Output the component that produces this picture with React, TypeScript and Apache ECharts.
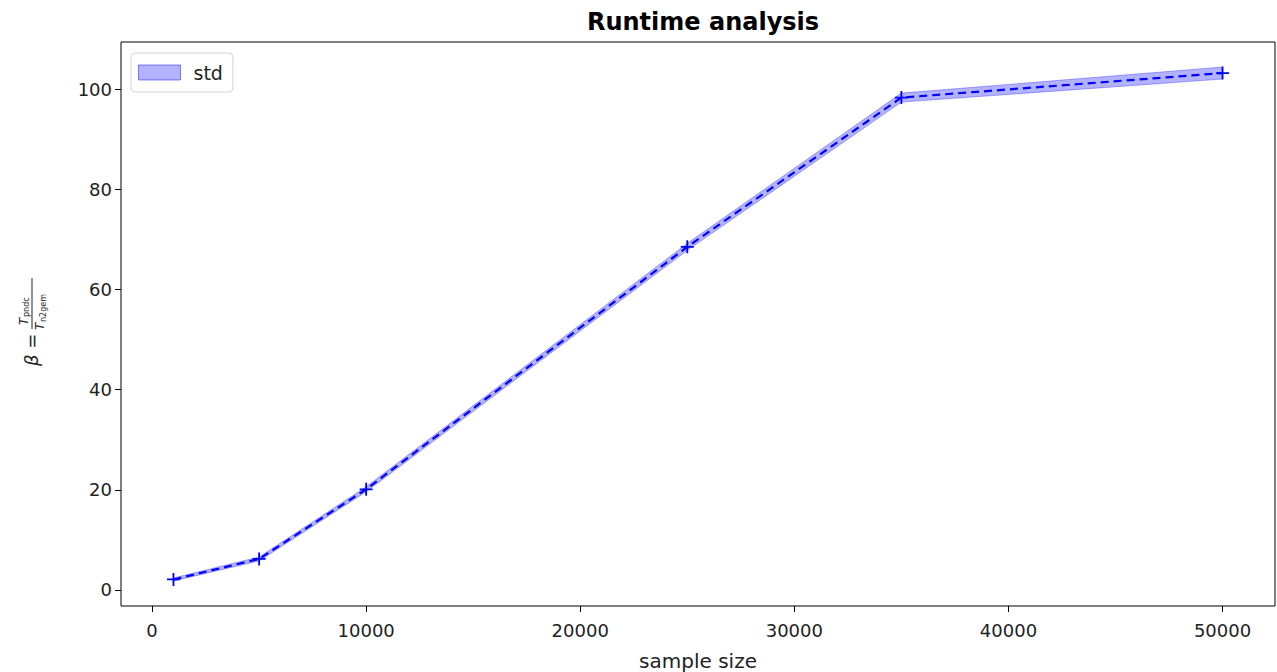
import React, { useEffect, useRef } from 'react';
import * as echarts from 'echarts';

const sampleSizes = [1000, 5000, 10000, 25000, 35000, 50000];
const betaMean = [2.1, 6.2, 20.1, 68.5, 98.3, 103.2];
const betaStd = [0.3, 0.4, 0.5, 0.7, 0.9, 1.2];
const xTicks = [0, 10000, 20000, 30000, 40000, 50000];
const yTicks = [0, 20, 40, 60, 80, 100];

const BLUE = '#0000ff';
const BAND = 'rgba(0,0,255,0.3)';
const FONT = 'DejaVu Sans';

export default function App() {
  const ref = useRef<HTMLDivElement>(null);
  useEffect(() => {
    const chart = echarts.init(ref.current!, null, { renderer: 'svg' });
    const bandData = sampleSizes.map((x, i) => [x, betaMean[i] - betaStd[i], betaMean[i] + betaStd[i]]);
    const lineData = sampleSizes.map((x, i) => [x, betaMean[i]]);
    chart.setOption({
      animation: false,
      backgroundColor: '#ffffff',
      title: {
        text: 'Runtime analysis',
        left: 698,
        textAlign: 'center',
        top: 5,
        textStyle: { fontFamily: FONT, fontSize: 24, fontWeight: 'bold', color: '#000' },
      },
      grid: {
        left: 121, right: 2, top: 42, bottom: 66,
        containLabel: false,
        outerBoundsMode: 'none',
        show: true, borderColor: '#000', borderWidth: 1, backgroundColor: 'transparent',
      },
      legend: {
        left: 131, top: 53,
        data: [{ name: 'std', icon: 'rect' }],
        itemWidth: 42, itemHeight: 15,
        padding: [10, 10, 10, 7],
        backgroundColor: 'rgba(255,255,255,0.8)',
        borderColor: '#d5d5d5', borderWidth: 1, borderRadius: 4,
        itemGap: 10,
        textStyle: { fontFamily: FONT, fontSize: 19, color: '#222', padding: [0, 0, 0, 8] },
        itemStyle: { color: BAND, borderColor: 'rgba(0,0,255,0.45)', borderWidth: 1 },
      },
      xAxis: {
        type: 'value', min: -1450, max: 52450,
        name: 'sample size', nameLocation: 'middle', nameGap: 45,
        nameTextStyle: { fontFamily: FONT, fontSize: 20, color: '#222' },
        axisLine: { show: false, onZero: false },
        axisTick: { show: true, customValues: xTicks, length: 6, lineStyle: { color: '#000' } },
        axisLabel: {
          customValues: xTicks, fontFamily: FONT, fontSize: 18, color: '#222', margin: 15,
          formatter: (v: number) => String(v),
        },
        splitLine: { show: false },
      },
      yAxis: {
        type: 'value', min: -3.2, max: 109.4,
        axisLine: { show: false, onZero: false },
        axisTick: { show: true, customValues: yTicks, length: 6, lineStyle: { color: '#000' } },
        axisLabel: {
          customValues: yTicks, fontFamily: FONT, fontSize: 18, color: '#222', margin: 9,
          formatter: (v: number) => String(v),
        },
        splitLine: { show: false },
      },
      graphic: [
        {
          type: 'group', x: 32, y: 314, rotation: Math.PI / 2,
          children: [
            { type: 'text', x: -52, y: -1, style: { text: 'β =', fontFamily: FONT, fontStyle: 'italic', fontSize: 18, fill: '#222', verticalAlign: 'middle' } },
            { type: 'line', shape: { x1: -15, y1: 0, x2: 36, y2: 0 }, style: { stroke: '#222', lineWidth: 1 } },
            { type: 'text', x: -11, y: -2, style: { text: 'T', fontFamily: FONT, fontStyle: 'italic', fontSize: 12, fill: '#222', verticalAlign: 'bottom' } },
            { type: 'text', x: -3, y: -2, style: { text: 'pndc', fontFamily: FONT, fontSize: 8, fill: '#222', verticalAlign: 'bottom' } },
            { type: 'text', x: -16, y: 2, style: { text: 'T', fontFamily: FONT, fontStyle: 'italic', fontSize: 12, fill: '#222', verticalAlign: 'top' } },
            { type: 'text', x: -8, y: 7, style: { text: 'n2gem', fontFamily: FONT, fontSize: 8, fill: '#222', verticalAlign: 'top' } },
          ],
        },
      ],
      series: [
        {
          name: 'std',
          type: 'custom',
          data: bandData,
          encode: { x: 0, y: [1, 2] },
          itemStyle: { color: BAND },
          z: 1,
          renderItem: (params: any, api: any) => {
            if (params.dataIndex !== 0) return { type: 'group', children: [] };
            const upper = bandData.map((d) => api.coord([d[0], d[2]]));
            const lower = bandData.map((d) => api.coord([d[0], d[1]])).reverse();
            return {
              type: 'polygon',
              shape: { points: [...upper, ...lower] },
              style: { fill: BAND, stroke: BAND, lineWidth: 1 },
            };
          },
        },
        {
          name: 'mean',
          type: 'line',
          data: lineData,
          z: 3,
          symbol: 'path://M4.3,0H5.7V4.3H10V5.7H5.7V10H4.3V5.7H0V4.3H4.3Z',
          symbolSize: 13,
          itemStyle: { color: BLUE },
          lineStyle: { color: BLUE, width: 2.2, type: [8, 5] },
        },
      ],
    });
    return () => chart.dispose();
  }, []);
  return <div ref={ref} style={{ position: 'fixed', left: 0, top: 0, width: 1277, height: 672 }} />;
}
